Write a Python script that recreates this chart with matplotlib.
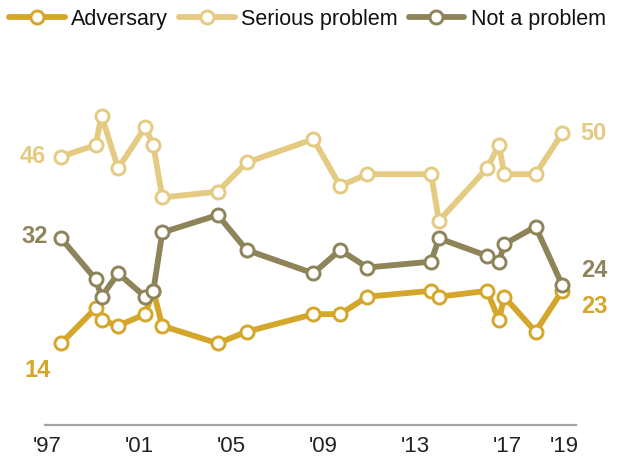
import matplotlib
matplotlib.use("Agg")
import matplotlib.pyplot as plt
from matplotlib.lines import Line2D

# Survey dates (decimal years)
dates = [1997.61, 1999.11, 1999.37, 2000.09, 2001.26, 2001.62, 2002.01,
         2004.42, 2005.68, 2008.58, 2009.74, 2010.93, 2013.70, 2014.04,
         2016.13, 2016.65, 2016.88, 2018.24, 2019.40]

adversary = [14, 20, 18, 17, 19, 23, 17, 14, 16, 19, 19, 22, 23, 22, 23, 18, 22, 16, 23]
serious_problem = [46, 48, 53, 44, 51, 48, 39, 40, 45, 49, 41, 43, 43, 35, 44, 48, 43, 43, 50]
not_a_problem = [32, 25, 22, 26, 22, 23, 33, 36, 30, 26, 30, 27, 28, 32, 29, 28, 31, 34, 24]

series_names = ["Adversary", "Serious problem", "Not a problem"]
series_values = [adversary, serious_problem, not_a_problem]
colors = ["#D4A62A", "#E5CA82", "#8E845A"]

tick_positions = [1997, 2001, 2005, 2009, 2013, 2017, 2019.5]
tick_labels = ["'97", "'01", "'05", "'09", "'13", "'17", "'19"]

plt.rcParams["font.family"] = ["Liberation Sans", "DejaVu Sans"]

fig = plt.figure(figsize=(6.24, 4.69), dpi=100)
ax = fig.add_axes([0.0721, 0.0938, 0.851, 0.7463])

line_kw = dict(lw=4.2, marker="o", markersize=9.4, markerfacecolor="white",
               markeredgewidth=2.1, solid_capstyle="round", clip_on=False)

for i, (name, vals, c) in enumerate(zip(series_names, series_values, colors)):
    ax.plot(dates, vals, color=c, markeredgecolor=c, zorder=3 + i, **line_kw)

# End-point value labels
def label(series_idx, point_idx, dx, dy, ha):
    vals = series_values[series_idx]
    ax.annotate(str(vals[point_idx]), (dates[point_idx], vals[point_idx]),
                xytext=(dx, dy), textcoords="offset pixels", ha=ha, va="center",
                fontsize=17, fontweight="bold", color=colors[series_idx],
                annotation_clip=False)

label(1, 0, -15, 0, "right")
label(2, 0, -13, 2, "right")
label(0, 0, -10, -27, "right")
label(1, -1, 18, 0, "left")
label(2, -1, 19, 15, "left")
label(0, -1, 19, -16, "left")

ax.set_xlim(1996.91, 2020.0)
ax.set_ylim(0, 60)
ax.set_yticks([])
ax.set_xticks(tick_positions)
ax.set_xticklabels(tick_labels, fontsize=16, color="#222222")
ax.tick_params(axis="x", length=0, pad=8)
for side in ["top", "left", "right"]:
    ax.spines[side].set_visible(False)
ax.spines["bottom"].set_color("#A3A3A3")
ax.spines["bottom"].set_linewidth(1.6)

handles = [Line2D([0], [0], color=c, markeredgecolor=c, **line_kw) for c in colors]
fig.legend(handles, series_names, loc="upper left", bbox_to_anchor=(0.0, 1.0),
           ncol=3, frameon=False, fontsize=15.5, handlelength=2.6,
           handletextpad=0.3, columnspacing=0.5, borderaxespad=0.2,
           borderpad=0.2, labelcolor="#111111")

fig.savefig("out.png", dpi=100)
